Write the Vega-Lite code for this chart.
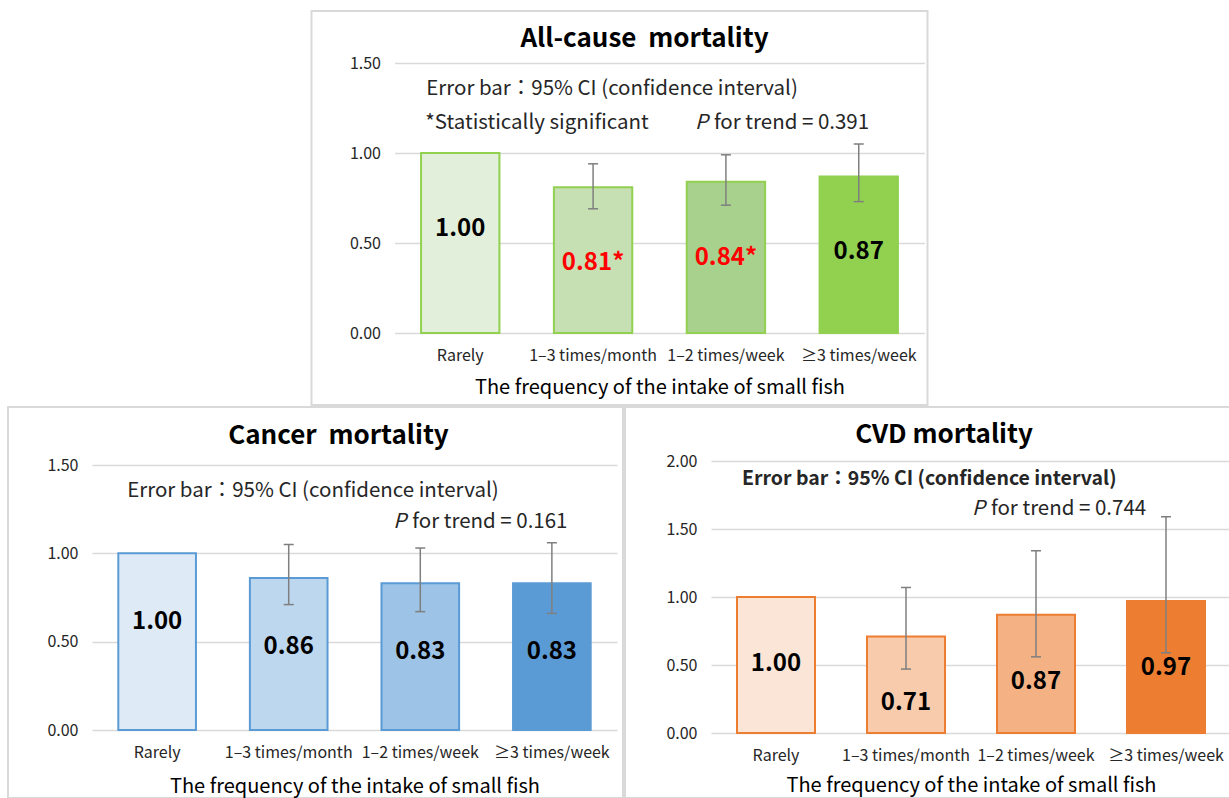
{
  "$schema": "https://vega.github.io/schema/vega-lite/v6.json",
  "background": "white",
  "padding": {"left": 7, "top": 10, "right": 0, "bottom": 0},
  "config": {
    "font": "Noto Sans CJK JP",
    "view": {"stroke": "#d9d9d9", "strokeWidth": 2},
    "axisX": {"labelAngle": 0, "labelFontSize": 16, "labelColor": "#262626", "labelPadding": 14, "ticks": false, "domain": false, "labelOverlap": false, "labelLimit": 0, "titleFontSize": 20, "titleFontWeight": "normal", "titleColor": "#000000", "titlePadding": 14, "grid": false},
    "axisY": {"labelFontSize": 16, "labelColor": "#262626", "labelPadding": 14, "ticks": false, "domain": false, "grid": true, "gridColor": "#d9d9d9", "gridWidth": 1.5, "format": ".2f"},
    "title": {"fontSize": 26, "fontWeight": "bold", "color": "#000000", "anchor": "middle"}
  },
  "spacing": 0,
  "center": true,
  "resolve": {"scale": {"x": "independent", "y": "independent", "color": "independent"}},
  "vconcat": [
    {
      "width": 616,
      "height": 394,
      "title": {"text": "All-cause\u00a0 mortality", "offset": -41, "dx": 25},
      "data": {"values": [
        {"cat": "Rarely", "hr": 1.00, "lo": null, "hi": null, "label": "1.00", "sig": false},
        {"cat": "1–3 times/month", "hr": 0.81, "lo": 0.69, "hi": 0.94, "label": "0.81*", "sig": true},
        {"cat": "1–2 times/week", "hr": 0.84, "lo": 0.71, "hi": 0.99, "label": "0.84*", "sig": true},
        {"cat": "≥3 times/week", "hr": 0.87, "lo": 0.73, "hi": 1.05, "label": "0.87", "sig": false}
      ]},
      "encoding": {
        "x": {"field": "cat", "type": "nominal", "sort": null,
          "scale": {"domain": ["Rarely", "1–3 times/month", "1–2 times/week", "≥3 times/week"], "range": [83, 613], "paddingInner": 0.41, "paddingOuter": 0.2},
          "axis": {"title": "The frequency of the intake of small fish", "offset": -72}}
      },
      "layer": [
        {"mark": {"type": "bar", "stroke": "#92D050", "strokeWidth": 2},
         "encoding": {
           "y": {"field": "hr", "type": "quantitative", "title": null, "scale": {"domain": [0, 1.5], "nice": false, "range": [322, 52]}, "axis": {"values": [0, 0.5, 1, 1.5], "offset": -83}},
           "color": {"field": "cat", "type": "nominal", "legend": null, "scale": {"domain": ["Rarely", "1–3 times/month", "1–2 times/week", "≥3 times/week"], "range": ["#E2EFDA", "#C6E0B4", "#A9D18E", "#92D050"]}}
         }},
        {"transform": [{"filter": "datum.lo != null"}], "mark": {"type": "rule", "color": "#7F7F7F", "strokeWidth": 1.5},
         "encoding": {"y": {"field": "lo", "type": "quantitative", "title": null}, "y2": {"field": "hi"}}},
        {"transform": [{"filter": "datum.lo != null"}], "mark": {"type": "tick", "color": "#7F7F7F", "thickness": 1.5, "size": 10, "opacity": 1},
         "encoding": {"y": {"field": "lo", "type": "quantitative", "title": null}}},
        {"transform": [{"filter": "datum.lo != null"}], "mark": {"type": "tick", "color": "#7F7F7F", "thickness": 1.5, "size": 10, "opacity": 1},
         "encoding": {"y": {"field": "hi", "type": "quantitative", "title": null}}},
        {"mark": {"type": "text", "fontSize": 24, "fontWeight": "bold", "baseline": "middle", "dy": 76},
         "encoding": {"y": {"field": "hr", "type": "quantitative", "title": null}, "text": {"field": "label"},
           "color": {"condition": {"test": "datum.sig", "value": "#FF0000"}, "value": "#000000"}}},
        {"data": {"values": [{}]}, "mark": {"type": "text", "align": "left", "baseline": "middle", "fontSize": 20.5, "color": "#262626", "dx": -34},
         "encoding": {"x": {"datum": "Rarely", "type": "nominal"}, "y": {"datum": 1.356, "type": "quantitative", "title": null}, "text": {"value": "Error bar：95% CI (confidence interval)"}}},
        {"data": {"values": [{}]}, "mark": {"type": "text", "align": "left", "baseline": "middle", "fontSize": 20.5, "color": "#262626", "dx": -35},
         "encoding": {"x": {"datum": "Rarely", "type": "nominal"}, "y": {"datum": 1.167, "type": "quantitative", "title": null}, "text": {"value": "*Statistically significant"}}},
        {"data": {"values": [{}]}, "mark": {"type": "text", "align": "left", "baseline": "middle", "fontSize": 20.5, "fontStyle": "italic", "color": "#262626", "dx": -31},
         "encoding": {"x": {"datum": "1–2 times/week", "type": "nominal"}, "y": {"datum": 1.167, "type": "quantitative", "title": null}, "text": {"value": "P"}}},
        {"data": {"values": [{}]}, "mark": {"type": "text", "align": "left", "baseline": "middle", "fontSize": 20.5, "color": "#262626", "dx": -12},
         "encoding": {"x": {"datum": "1–2 times/week", "type": "nominal"}, "y": {"datum": 1.167, "type": "quantitative", "title": null}, "text": {"value": "for trend = 0.391"}}}
      ]
    },
    {
      "spacing": 0,
      "resolve": {"scale": {"x": "independent", "y": "independent", "color": "independent"}},
      "hconcat": [
        {
          "width": 615,
          "height": 391,
          "title": {"text": "Cancer\u00a0 mortality", "offset": -42, "dx": 23},
          "data": {"values": [
            {"cat": "Rarely", "hr": 1.00, "lo": null, "hi": null, "label": "1.00"},
            {"cat": "1–3 times/month", "hr": 0.86, "lo": 0.71, "hi": 1.05, "label": "0.86"},
            {"cat": "1–2 times/week", "hr": 0.83, "lo": 0.67, "hi": 1.03, "label": "0.83"},
            {"cat": "≥3 times/week", "hr": 0.83, "lo": 0.66, "hi": 1.06, "label": "0.83"}
          ]},
          "encoding": {
            "x": {"field": "cat", "type": "nominal", "sort": null,
              "scale": {"domain": ["Rarely", "1–3 times/month", "1–2 times/week", "≥3 times/week"], "range": [84, 609], "paddingInner": 0.41, "paddingOuter": 0.2},
              "axis": {"title": "The frequency of the intake of small fish", "offset": -68, "titlePadding": 16}}
          },
          "layer": [
            {"mark": {"type": "bar", "stroke": "#5B9BD5", "strokeWidth": 2},
             "encoding": {
               "y": {"field": "hr", "type": "quantitative", "title": null, "scale": {"domain": [0, 1.5], "nice": false, "range": [323, 58]}, "axis": {"values": [0, 0.5, 1, 1.5], "offset": -84}},
               "color": {"field": "cat", "type": "nominal", "legend": null, "scale": {"domain": ["Rarely", "1–3 times/month", "1–2 times/week", "≥3 times/week"], "range": ["#DEEBF7", "#BDD7EE", "#9DC3E6", "#5B9BD5"]}}
             }},
            {"transform": [{"filter": "datum.lo != null"}], "mark": {"type": "rule", "color": "#7F7F7F", "strokeWidth": 1.5},
             "encoding": {"y": {"field": "lo", "type": "quantitative", "title": null}, "y2": {"field": "hi"}}},
            {"transform": [{"filter": "datum.lo != null"}], "mark": {"type": "tick", "color": "#7F7F7F", "thickness": 1.5, "size": 10, "opacity": 1},
             "encoding": {"y": {"field": "lo", "type": "quantitative", "title": null}}},
            {"transform": [{"filter": "datum.lo != null"}], "mark": {"type": "tick", "color": "#7F7F7F", "thickness": 1.5, "size": 10, "opacity": 1},
             "encoding": {"y": {"field": "hi", "type": "quantitative", "title": null}}},
            {"mark": {"type": "text", "fontSize": 24, "fontWeight": "bold", "baseline": "middle", "dy": 69, "color": "#000000"},
             "encoding": {"y": {"field": "hr", "type": "quantitative", "title": null}, "text": {"field": "label"}}},
            {"data": {"values": [{}]}, "mark": {"type": "text", "align": "left", "baseline": "middle", "fontSize": 20.5, "color": "#262626", "dx": -30},
             "encoding": {"x": {"datum": "Rarely", "type": "nominal"}, "y": {"datum": 1.353, "type": "quantitative", "title": null}, "text": {"value": "Error bar：95% CI (confidence interval)"}}},
            {"data": {"values": [{}]}, "mark": {"type": "text", "align": "left", "baseline": "middle", "fontSize": 20.5, "fontStyle": "italic", "color": "#262626", "dx": -27},
             "encoding": {"x": {"datum": "1–2 times/week", "type": "nominal"}, "y": {"datum": 1.177, "type": "quantitative", "title": null}, "text": {"value": "P"}}},
            {"data": {"values": [{}]}, "mark": {"type": "text", "align": "left", "baseline": "middle", "fontSize": 20.5, "color": "#262626", "dx": -8},
             "encoding": {"x": {"datum": "1–2 times/week", "type": "nominal"}, "y": {"datum": 1.177, "type": "quantitative", "title": null}, "text": {"value": "for trend = 0.161"}}}
          ]
        },
        {
          "width": 606,
          "height": 391,
          "title": {"text": "CVD mortality", "offset": -41, "dx": 16},
          "data": {"values": [
            {"cat": "Rarely", "hr": 1.00, "lo": null, "hi": null, "label": "1.00"},
            {"cat": "1–3 times/month", "hr": 0.71, "lo": 0.47, "hi": 1.07, "label": "0.71"},
            {"cat": "1–2 times/week", "hr": 0.87, "lo": 0.56, "hi": 1.34, "label": "0.87"},
            {"cat": "≥3 times/week", "hr": 0.97, "lo": 0.59, "hi": 1.59, "label": "0.97"}
          ]},
          "encoding": {
            "x": {"field": "cat", "type": "nominal", "sort": null,
              "scale": {"domain": ["Rarely", "1–3 times/month", "1–2 times/week", "≥3 times/week"], "range": [86, 606], "paddingInner": 0.4, "paddingOuter": 0.2},
              "axis": {"title": "The frequency of the intake of small fish", "offset": -65, "titlePadding": 12}}
          },
          "layer": [
            {"mark": {"type": "bar", "stroke": "#ED7D31", "strokeWidth": 2},
             "encoding": {
               "y": {"field": "hr", "type": "quantitative", "title": null, "scale": {"domain": [0, 2], "nice": false, "range": [326, 54]}, "axis": {"values": [0, 0.5, 1, 1.5, 2], "offset": -86}},
               "color": {"field": "cat", "type": "nominal", "legend": null, "scale": {"domain": ["Rarely", "1–3 times/month", "1–2 times/week", "≥3 times/week"], "range": ["#FBE5D6", "#F8CBAD", "#F4B183", "#ED7D31"]}}
             }},
            {"transform": [{"filter": "datum.lo != null"}], "mark": {"type": "rule", "color": "#7F7F7F", "strokeWidth": 1.5},
             "encoding": {"y": {"field": "lo", "type": "quantitative", "title": null}, "y2": {"field": "hi"}}},
            {"transform": [{"filter": "datum.lo != null"}], "mark": {"type": "tick", "color": "#7F7F7F", "thickness": 1.5, "size": 10, "opacity": 1},
             "encoding": {"y": {"field": "lo", "type": "quantitative", "title": null}}},
            {"transform": [{"filter": "datum.lo != null"}], "mark": {"type": "tick", "color": "#7F7F7F", "thickness": 1.5, "size": 10, "opacity": 1},
             "encoding": {"y": {"field": "hi", "type": "quantitative", "title": null}}},
            {"mark": {"type": "text", "fontSize": 24, "fontWeight": "bold", "baseline": "middle", "dy": 67, "color": "#000000"},
             "encoding": {"y": {"field": "hr", "type": "quantitative", "title": null}, "text": {"field": "label"}}},
            {"data": {"values": [{}]}, "mark": {"type": "text", "align": "left", "baseline": "middle", "fontSize": 19.5, "fontWeight": "bold", "color": "#262626", "dx": -34},
             "encoding": {"x": {"datum": "Rarely", "type": "nominal"}, "y": {"datum": 1.868, "type": "quantitative", "title": null}, "text": {"value": "Error bar：95% CI (confidence interval)"}}},
            {"data": {"values": [{}]}, "mark": {"type": "text", "align": "left", "baseline": "middle", "fontSize": 20.5, "fontStyle": "italic", "color": "#262626", "dx": -64},
             "encoding": {"x": {"datum": "1–2 times/week", "type": "nominal"}, "y": {"datum": 1.647, "type": "quantitative", "title": null}, "text": {"value": "P"}}},
            {"data": {"values": [{}]}, "mark": {"type": "text", "align": "left", "baseline": "middle", "fontSize": 20.5, "color": "#262626", "dx": -45},
             "encoding": {"x": {"datum": "1–2 times/week", "type": "nominal"}, "y": {"datum": 1.647, "type": "quantitative", "title": null}, "text": {"value": "for trend = 0.744"}}}
          ]
        }
      ]
    }
  ]
}
